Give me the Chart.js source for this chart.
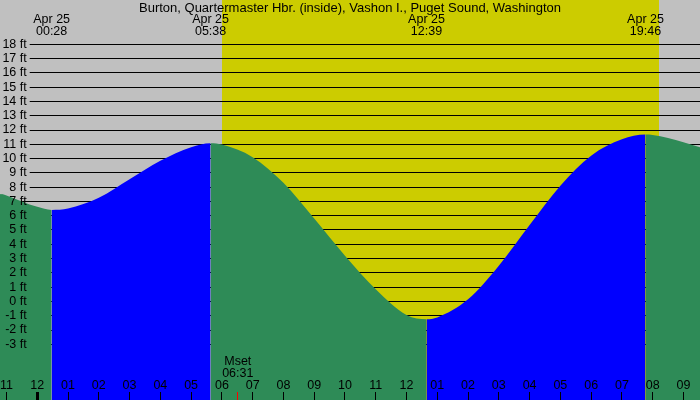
<!DOCTYPE html>
<html lang="en">
<head>
<meta charset="UTF-8">
<title>Burton tide chart</title>
<script src="https://cdn.jsdelivr.net/npm/chart.js"></script>
<style>
  body { margin: 0; background: #c0c0c0; }
  #chart { display: block; }
</style>
</head>
<body>
<canvas id="chart" width="700" height="400"></canvas>
<script>
// tide height: hours after midnight Apr 25, feet
const tideHours   = [-1.25, -1, 0, 0.467, 1, 2, 3, 4, 5, 5.633, 6, 7, 8, 9, 10, 11, 12, 12.65, 13, 14, 15, 16, 17, 18, 19, 19.767, 20, 21, 21.6];
const tideHeights = [7.6, 7.42, 6.62, 6.4, 6.5, 7.25, 8.55, 9.85, 10.8, 11.08, 10.98, 10.1, 8.3, 5.8, 3.2, 0.85, -0.95, -1.25, -1.12, 0.15, 2.5, 5.35, 8.1, 10.2, 11.35, 11.68, 11.65, 11.15, 10.75];

// highs and lows labelled at the top
const extremeHours  = [0.467, 5.633, 12.65, 19.767];
const extremeLabels = ['00:28', '05:38', '12:39', '19:46'];
const dateLabel = 'Apr 25';

// hour ticks along the bottom
const hourTicks  = [-1, 0, 1, 2, 3, 4, 5, 6, 7, 8, 9, 10, 11, 12, 13, 14, 15, 16, 17, 18, 19, 20, 21];
const hourLabels = ['11', '12', '01', '02', '03', '04', '05', '06', '07', '08', '09', '10',
                    '11', '12', '01', '02', '03', '04', '05', '06', '07', '08', '09'];

const moonsetHour  = 6.517;
const moonsetLabel = '06:31';
const sunriseHour  = 5.99;
const sunsetHour   = 20.215;

const yTicks = [-3, -2, -1, 0, 1, 2, 3, 4, 5, 6, 7, 8, 9, 10, 11, 12, 13, 14, 15, 16, 17, 18];

const TITLE = 'Burton, Quartermaster Hbr. (inside), Vashon I., Puget Sound, Washington';
const FONT = 'Liberation Sans, Arial, sans-serif';
const NIGHT = '#c0c0c0';
const DAY = '#cccc00';
const RISING = '#0000ff';
const FALLING = '#2e8b57';

// scale window, the chart area is the whole canvas
const X_MIN = -1.211, X_MAX = 21.538;
const Y_MIN = -6.9, Y_MAX = 21.1;

const daylight = {
  id: 'daylight',
  beforeDraw(chart) {
    const {ctx, chartArea, scales: {x}} = chart;
    const x0 = Math.round(x.getPixelForValue(sunriseHour));
    const x1 = Math.round(x.getPixelForValue(sunsetHour));
    ctx.save();
    ctx.fillStyle = NIGHT;
    ctx.fillRect(0, 0, chart.width, chart.height);
    ctx.fillStyle = DAY;
    ctx.fillRect(x0, chartArea.top, x1 - x0, chartArea.bottom - chartArea.top);
    ctx.restore();
  }
};

const labelFont = {family: FONT, size: 12.5, lineHeight: '12px'};

new Chart(document.getElementById('chart'), {
  type: 'line',
  data: {
    datasets: [{
      data: tideHours.map((h, i) => ({x: h, y: tideHeights[i]})),
      fill: 'start',
      borderWidth: 0,
      borderColor: 'transparent',
      pointRadius: 0,
      cubicInterpolationMode: 'monotone',
      backgroundColor: FALLING,
      segment: {
        backgroundColor: c => c.p1.parsed.y > c.p0.parsed.y ? RISING : FALLING
      }
    }]
  },
  options: {
    responsive: false,
    animation: false,
    layout: {padding: 0},
    plugins: {
      legend: {display: false},
      tooltip: {enabled: false},
      title: {
        display: true,
        text: TITLE,
        color: '#000',
        font: {family: FONT, size: 13, weight: 'normal', lineHeight: 1},
        padding: {top: 2, bottom: -15}
      }
    },
    scales: {
      x: {
        type: 'linear',
        min: X_MIN,
        max: X_MAX,
        position: {y: -6.34},
        afterBuildTicks: s => {
          s.ticks = hourTicks.concat([moonsetHour]).sort((a, b) => a - b).map(v => ({value: v}));
        },
        ticks: {
          autoSkip: false,
          maxRotation: 0,
          padding: -44,
          z: 1,
          color: '#000',
          font: labelFont,
          callback: v => v === moonsetHour
            ? ['Mset', moonsetLabel, '']
            : ['', '', hourLabels[hourTicks.indexOf(v)]]
        },
        grid: {
          drawOnChartArea: false,
          tickLength: 8,
          z: 1,
          color: c => c.tick && c.tick.value === moonsetHour ? '#ff0000' : '#000',
          lineWidth: c => c.tick && c.tick.value === 0 ? 3 : 1
        },
        border: {display: false}
      },
      xTop: {
        axis: 'x',
        type: 'linear',
        min: X_MIN,
        max: X_MAX,
        position: {y: 20.12},
        afterBuildTicks: s => {
          s.ticks = extremeHours.map(v => ({value: v}));
        },
        ticks: {
          autoSkip: false,
          maxRotation: 0,
          padding: 0,
          color: '#000',
          font: labelFont,
          callback: v => [dateLabel, extremeLabels[extremeHours.indexOf(v)]]
        },
        grid: {display: false, drawTicks: false},
        border: {display: false}
      },
      y: {
        type: 'linear',
        min: Y_MIN,
        max: Y_MAX,
        position: {x: -0.343},
        afterBuildTicks: s => {
          s.ticks = yTicks.map(v => ({value: v}));
        },
        ticks: {
          padding: -10,
          z: 1,
          color: '#000',
          font: labelFont,
          showLabelBackdrop: true,
          backdropColor: c => c.tick && c.tick.value >= 8 ? NIGHT : 'rgba(0,0,0,0)',
          backdropPadding: {left: 30, right: 3, top: 1, bottom: 1},
          callback: v => v + ' ft'
        },
        grid: {color: '#000', lineWidth: 1, drawTicks: false},
        border: {display: false}
      }
    }
  },
  plugins: [daylight]
});
</script>
</body>
</html>
